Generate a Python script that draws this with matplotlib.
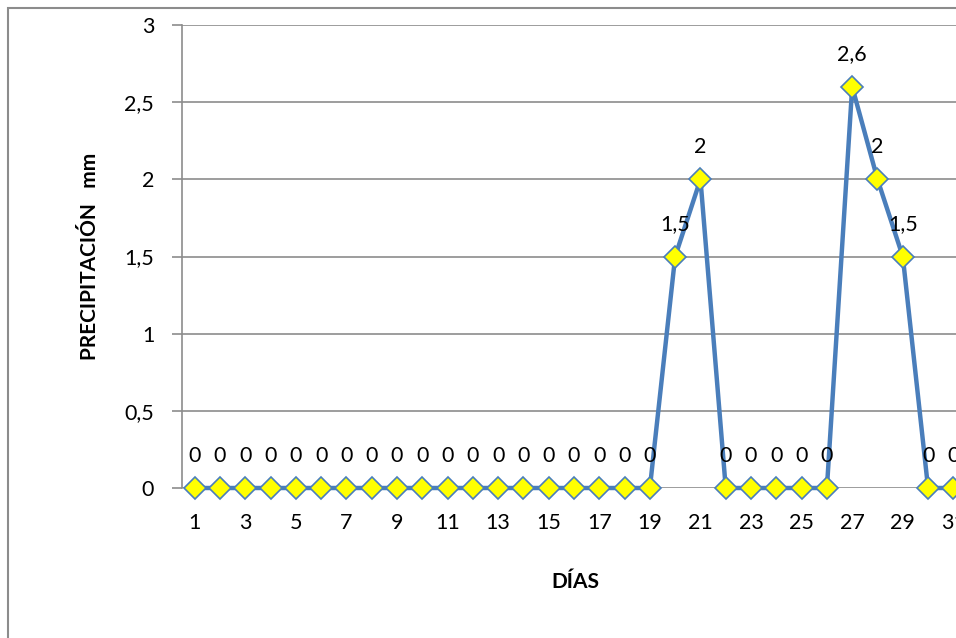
import matplotlib.pyplot as plt
from matplotlib.patches import Rectangle

plt.rcParams['font.family'] = ['Lato', 'DejaVu Sans']

dias = list(range(1, 32))
precipitacion = [0, 0, 0, 0, 0, 0, 0, 0, 0, 0,
                 0, 0, 0, 0, 0, 0, 0, 0, 0, 1.5,
                 2, 0, 0, 0, 0, 0, 2.6, 2, 1.5, 0, 0]
y_ticks = [0, 0.5, 1, 1.5, 2, 2.5, 3]


def fmt(v):
    # decimal comma
    return ('%g' % v).replace('.', ',')


W, H = 956, 638
fig = plt.figure(figsize=(W / 100, H / 100), dpi=100)

# outer chart border (the right and bottom edges fall outside the figure)
fig.patches.append(Rectangle((8 / W, -0.1), 1.2, 1 - 8 / H + 0.1,
                             transform=fig.transFigure, fill=False,
                             edgecolor='#8c8c8c', linewidth=1.5))

ax = fig.add_axes([182 / W, 150 / H, (966 - 182) / W, (488 - 25) / H])
ax.set_xlim(0.5, 31.5)
ax.set_ylim(0, 3)

ax.plot(dias, precipitacion, color='#4a7ebb', linewidth=3.2,
        marker='D', markersize=11.5, markerfacecolor='#ffff00',
        markeredgecolor='#4a7ebb', markeredgewidth=1.2, zorder=3, clip_on=False)

for d, v in zip(dias, precipitacion):
    ax.annotate(fmt(v), (d, v), xytext=(0, 16), textcoords='offset points',
                ha='center', va='bottom', fontsize=15.5, color='black')

ax.set_yticks(y_ticks)
ax.set_yticklabels([fmt(t) for t in y_ticks], fontsize=15.5)
ax.set_xticks(dias[::2])
ax.set_xticklabels([str(d) for d in dias[::2]], fontsize=15.5)
ax.tick_params(axis='y', length=7, color='#8c8c8c', width=1.2, pad=13)
ax.tick_params(axis='x', length=0, pad=18)

ax.grid(axis='y', color='#8c8c8c', linewidth=1.2)
ax.set_axisbelow(True)
for side in ['top', 'right', 'bottom']:
    ax.spines[side].set_visible(False)
ax.spines['left'].set_color('#8c8c8c')
ax.spines['left'].set_linewidth(1.2)

ax.set_xlabel('DÍAS', fontsize=15, fontweight='bold')
ax.set_ylabel('PRECIPITACIÓN   mm', fontsize=15, fontweight='bold')
ax.xaxis.set_label_coords((575 - 182) / (966 - 182), -(582 - 488) / (488 - 25))
ax.yaxis.set_label_coords(-(182 - 90) / (966 - 182), 0.5)
ax.xaxis.label.set_va('center')
ax.yaxis.label.set_va('center')

fig.savefig('out.png', dpi=100)
